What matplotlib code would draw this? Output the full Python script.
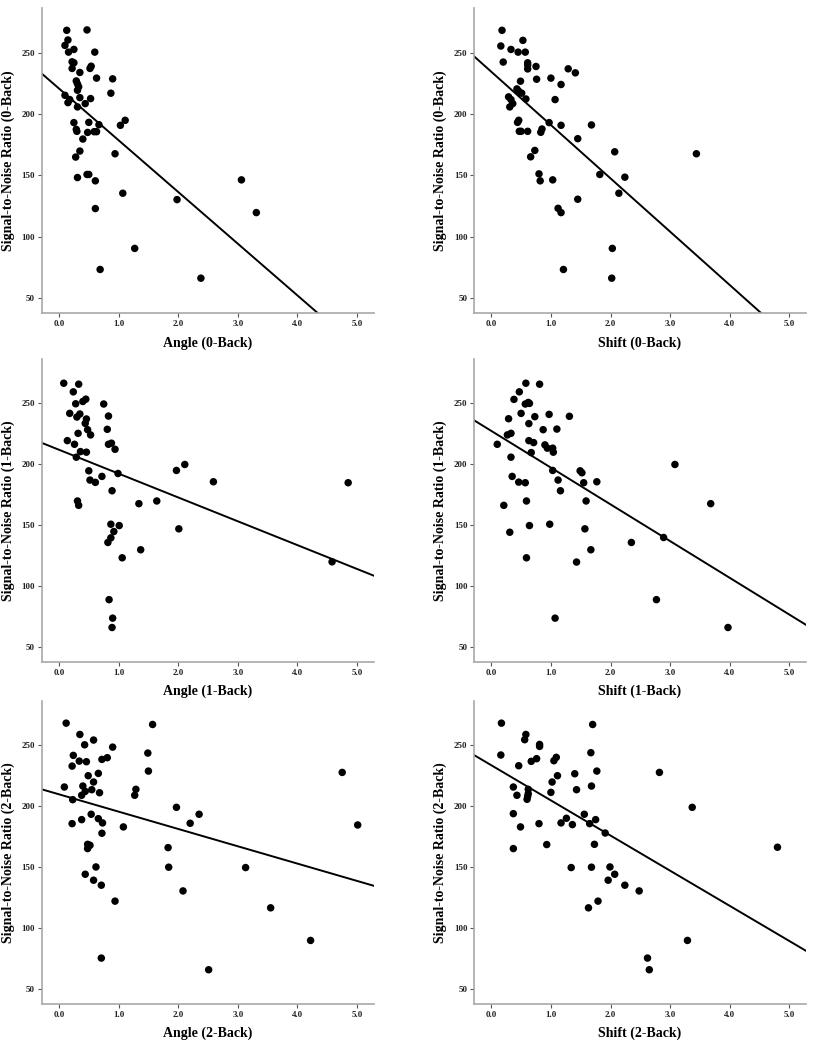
import matplotlib
matplotlib.use("Agg")
import matplotlib.pyplot as plt
from matplotlib.ticker import FormatStrFormatter

# ---------------- data ----------------
angle0_x = [0.13, 0.47, 0.15, 0.10, 0.16, 0.25, 0.60, 0.22, 0.25, 0.22, 0.35, 0.52, 0.54, 0.63,
            0.90, 0.29, 0.31, 0.33, 0.31, 0.35, 0.10, 0.15, 0.18, 0.31, 0.44, 0.53, 0.87, 0.25,
            0.50, 0.67, 1.03, 1.11, 0.29, 0.30, 0.48, 0.59, 0.63, 0.40, 0.35, 0.94, 0.28, 0.47,
            0.50, 0.31, 0.61, 1.07, 0.61, 3.06, 3.31, 1.98, 1.27, 0.69, 2.38]
angle0_y = [268.3, 268.6, 260.4, 256.0, 250.5, 252.7, 250.5, 242.6, 241.8, 237.2, 233.9, 237.2,
            239.0, 229.3, 228.7, 227.0, 224.6, 222.2, 219.4, 213.4, 215.3, 209.3, 211.8, 205.8,
            208.5, 212.6, 217.0, 193.0, 193.2, 191.3, 190.8, 194.9, 187.5, 185.9, 185.0, 185.6,
            185.6, 179.6, 169.8, 167.6, 164.9, 150.7, 150.7, 148.2, 145.5, 135.4, 122.9, 146.3,
            119.6, 130.2, 90.4, 73.2, 66.1]

shift0_x = [0.18, 0.16, 0.20, 0.33, 0.45, 0.53, 0.57, 0.61, 0.61, 0.61, 0.75, 0.76, 0.49, 1.00,
            1.29, 1.41, 1.17, 0.43, 0.46, 0.51, 0.58, 0.29, 0.33, 0.36, 0.31, 1.07, 0.46, 0.44,
            0.47, 0.50, 0.61, 0.85, 0.83, 0.97, 1.17, 1.68, 1.45, 0.73, 0.66, 2.07, 3.44, 0.80,
            0.82, 1.03, 1.82, 2.24, 2.14, 1.45, 1.12, 1.17, 2.03, 1.21, 2.02]
shift0_y = [268.3, 255.5, 242.4, 252.7, 250.5, 260.1, 250.5, 241.8, 240.0, 236.8, 238.8, 228.4,
            226.8, 229.3, 236.9, 233.6, 224.1, 220.5, 218.6, 217.0, 212.3, 214.0, 211.8, 208.5,
            205.8, 211.8, 194.9, 193.2, 185.9, 185.9, 185.9, 187.8, 185.1, 193.0, 190.8, 191.1,
            179.9, 170.3, 165.1, 169.2, 167.6, 151.2, 145.5, 146.3, 150.7, 148.5, 135.4, 130.5,
            123.1, 119.6, 90.4, 73.2, 66.1]

angle1_x = [0.08, 0.33, 0.24, 0.28, 0.40, 0.45, 0.18, 0.35, 0.30, 0.46, 0.44, 0.48, 0.32, 0.53,
            0.14, 0.26, 0.36, 0.46, 0.29, 0.75, 0.83, 0.81, 0.83, 0.88, 0.94, 0.50, 0.52, 0.61,
            0.72, 0.99, 0.89, 0.31, 0.33, 1.34, 1.64, 1.97, 2.11, 2.59, 4.85, 0.87, 1.01, 0.92,
            0.87, 0.82, 1.06, 1.37, 2.01, 4.58, 0.84, 0.90, 0.89]
angle1_y = [266.6, 265.8, 259.5, 249.7, 251.6, 253.5, 241.8, 241.3, 238.8, 237.2, 233.6, 228.4,
            225.4, 224.1, 219.4, 216.4, 210.4, 209.9, 205.8, 249.5, 239.6, 228.7, 216.4, 217.3,
            212.3, 194.6, 187.0, 185.1, 190.0, 192.4, 178.2, 169.8, 166.2, 167.6, 169.8, 194.9,
            199.8, 185.6, 184.8, 150.7, 149.6, 144.7, 139.5, 135.7, 123.1, 129.7, 146.9, 119.8,
            88.7, 73.5, 65.8]

shift1_x = [0.58, 0.81, 0.47, 0.38, 0.57, 0.64, 0.62, 0.50, 0.97, 0.73, 1.31, 0.29, 0.63, 0.87,
            1.10, 0.33, 0.27, 0.63, 0.71, 0.10, 0.90, 0.94, 1.03, 1.04, 0.67, 0.33, 3.08, 1.03,
            1.49, 1.52, 0.35, 0.46, 0.57, 1.12, 1.55, 1.77, 1.16, 0.21, 0.59, 1.59, 3.68, 0.98,
            0.64, 1.57, 0.31, 2.35, 2.89, 1.67, 0.59, 1.43, 2.77, 1.07, 3.97]
shift1_y = [266.6, 265.8, 259.5, 253.3, 249.5, 250.0, 250.8, 241.8, 241.0, 239.1, 239.4, 237.4,
            233.4, 228.4, 228.9, 225.4, 224.1, 219.4, 217.8, 216.4, 215.9, 213.2, 213.2, 209.9,
            209.6, 205.8, 199.8, 194.9, 194.6, 193.0, 190.0, 185.3, 184.8, 187.0, 184.8, 185.6,
            178.2, 166.2, 169.8, 169.8, 167.6, 150.7, 149.6, 146.9, 144.1, 135.7, 139.8, 129.7,
            123.1, 119.6, 88.7, 73.5, 65.8]

angle2_x = [0.12, 1.57, 0.35, 0.58, 0.43, 0.90, 0.24, 0.34, 0.46, 0.22, 1.49, 0.72, 0.81, 1.50,
            4.75, 0.49, 0.66, 0.58, 0.09, 0.40, 0.44, 0.55, 0.38, 0.68, 0.23, 1.29, 1.27, 1.97,
            0.54, 0.38, 0.22, 0.66, 0.73, 1.08, 2.35, 2.20, 0.72, 5.01, 0.48, 0.52, 0.48, 1.83,
            0.62, 1.84, 3.13, 0.44, 0.58, 0.71, 2.08, 0.94, 3.55, 4.22, 0.71, 2.51]
angle2_y = [268.3, 267.2, 259.0, 254.4, 250.5, 248.6, 241.8, 237.1, 236.6, 233.0, 243.7, 238.5,
            239.9, 228.9, 227.8, 225.1, 227.0, 219.9, 215.8, 216.6, 212.2, 213.6, 209.0, 211.1,
            205.4, 213.9, 209.0, 199.1, 193.4, 189.0, 185.7, 189.8, 186.3, 183.0, 193.4, 186.0,
            177.8, 184.6, 168.7, 167.9, 165.2, 166.0, 150.1, 149.9, 149.6, 144.1, 139.2, 135.1,
            130.4, 122.0, 116.5, 89.7, 75.2, 65.6]

shift2_x = [0.17, 1.70, 0.58, 0.56, 0.81, 0.81, 0.16, 1.67, 1.09, 1.05, 0.76, 0.67, 0.46, 1.77,
            2.82, 1.40, 1.11, 1.02, 1.68, 0.37, 0.62, 1.43, 1.00, 0.43, 0.62, 0.60, 0.61, 3.37,
            0.37, 1.56, 1.26, 1.75, 1.17, 0.80, 1.36, 1.65, 0.49, 1.91, 0.93, 1.73, 0.37, 4.80,
            1.34, 1.68, 1.99, 2.07, 1.96, 2.24, 2.48, 1.79, 1.63, 3.29, 2.62, 2.65]
shift2_y = [268.3, 267.2, 259.0, 254.7, 250.8, 249.2, 242.1, 244.0, 240.2, 237.4, 239.1, 236.9,
            233.3, 228.9, 227.8, 226.7, 225.1, 219.9, 216.6, 215.8, 213.9, 213.6, 211.4, 209.0,
            210.3, 205.7, 208.1, 199.1, 193.9, 193.4, 190.1, 189.0, 186.3, 185.7, 184.9, 185.7,
            183.0, 178.0, 168.5, 168.7, 165.2, 166.3, 149.6, 149.9, 150.1, 144.1, 139.2, 135.1,
            130.4, 122.0, 116.5, 89.7, 75.2, 65.6]

# fitted regression lines (intercept, slope)
fit_intercepts = [220.8, 234.5, 211.9, 227.4, 209.8, 233.7]
fit_slopes = [-42.2, -43.5, -19.6, -30.2, -14.24, -28.9]

x_labels = ["Angle (0-Back)", "Shift (0-Back)", "Angle (1-Back)",
            "Shift (1-Back)", "Angle (2-Back)", "Shift (2-Back)"]
y_labels = ["Signal-to-Noise Ratio (0-Back)", "Signal-to-Noise Ratio (0-Back)",
            "Signal-to-Noise Ratio (1-Back)", "Signal-to-Noise Ratio (1-Back)",
            "Signal-to-Noise Ratio (2-Back)", "Signal-to-Noise Ratio (2-Back)"]
x_ticks = [0.0, 1.0, 2.0, 3.0, 4.0, 5.0]
y_ticks = [50, 100, 150, 200, 250]

xs = [angle0_x, shift0_x, angle1_x, shift1_x, angle2_x, shift2_x]
ys = [angle0_y, shift0_y, angle1_y, shift1_y, angle2_y, shift2_y]

# ---------------- layout ----------------
W, H = 813, 1050
fig = plt.figure(figsize=(W / 100, H / 100), dpi=100)
plt.rcParams['font.family'] = ['Liberation Serif', 'DejaVu Serif']

col_left = [42, 474.3]
col_width = 331.5
row_tops = [8, 359, 701]
row_bottoms = [313, 661.7, 1003.7]

XLIM = (-0.285, 5.275)
YLIM = (37.7, 286.5)
axis_gray = "#a8a8a8"

for i in range(6):
    r, c = divmod(i, 2)
    left = col_left[c] / W
    bottom = 1 - row_bottoms[r] / H
    height = (row_bottoms[r] - row_tops[r]) / H
    ax = fig.add_axes([left, bottom, col_width / W, height])

    ax.scatter(xs[i], ys[i], s=29, color="black", edgecolors="none", zorder=3)
    lx = list(XLIM)
    ly = [fit_intercepts[i] + fit_slopes[i] * v for v in lx]
    ax.plot(lx, ly, color="black", lw=1.4, zorder=2)

    ax.set_xlim(*XLIM)
    ax.set_ylim(*YLIM)
    ax.set_xticks(x_ticks)
    ax.set_yticks(y_ticks)
    ax.xaxis.set_major_formatter(FormatStrFormatter('%.1f'))

    for s in ["top", "right"]:
        ax.spines[s].set_visible(False)
    for s in ["left", "bottom"]:
        ax.spines[s].set_color(axis_gray)
        ax.spines[s].set_linewidth(1.2)

    ax.tick_params(axis="both", direction="out", length=3, width=0.8,
                   color="#555555", labelsize=6.5, pad=2, labelcolor="#222222")
    for lab in ax.get_xticklabels() + ax.get_yticklabels():
        lab.set_fontweight("bold")

    ax.set_xlabel(x_labels[i], fontsize=10, fontweight="bold", labelpad=6)
    ax.set_ylabel(y_labels[i], fontsize=10, fontweight="bold", labelpad=5)

fig.savefig("out.png", dpi=100)
